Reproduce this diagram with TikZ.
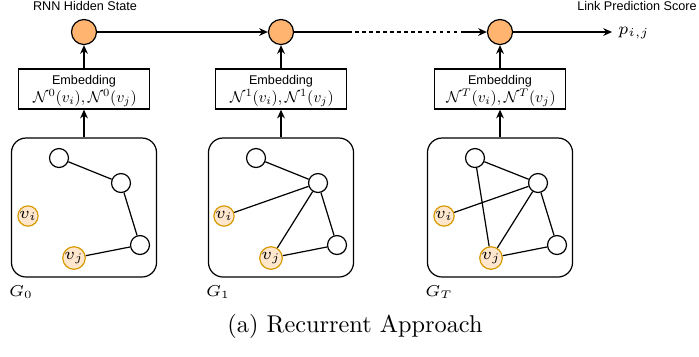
\documentclass[tikz,border=0pt]{standalone}
\usepackage{fix-cm}
\usepackage{graphicx}
\usepackage{fontspec}
\newfontfamily\helv{Liberation Sans}
\usetikzlibrary{arrows.meta}
\definecolor{hidfill}{HTML}{FFB570}
\definecolor{vfill}{HTML}{FFE6CC}
\definecolor{vdraw}{HTML}{D79B00}
\newcommand{\nbpair}[1]{\scalebox{0.65}{$\mathcal{N}^{#1}(v_i),\mathcal{N}^{#1}(v_j)$}}
\begin{document}
\begin{tikzpicture}[x=0.4115pt,y=-0.4115pt,
  hidden/.style={circle,draw,fill=hidfill,minimum size=10.3pt,inner sep=0pt,line width=0.5pt},
  embbox/.style={draw,minimum width=53.9pt,minimum height=16.5pt,inner sep=0pt,line width=0.5pt},
  graphbox/.style={draw,rounded corners=6pt,minimum width=59.7pt,minimum height=57.2pt,inner sep=0pt,line width=0.5pt},
  gnode/.style={circle,draw,minimum size=7.8pt,inner sep=0pt,line width=0.5pt,font=\fontsize{6.8}{8}\selectfont},
  tnode/.style={gnode,fill=vfill,draw=vdraw},
  flow/.style={-{Stealth[length=3.6pt,width=3.2pt]},line width=0.5pt},
  edge/.style={line width=0.5pt},
  lbl/.style={inner sep=0pt,font=\helv\fontsize{5.2}{6}\selectfont},
  mlbl/.style={inner sep=0pt},
  glbl/.style={inner sep=0pt,font=\fontsize{6.5}{7.5}\selectfont}]
\useasboundingbox (0,0) rectangle (699,356);

% top labels
\node[lbl] (rnnlbl) at (85,6) {RNN Hidden State};
\node[lbl] (linklbl) at (637,6) {Link Prediction Score};

% hidden states
\node[hidden] (h0) at (84,32) {};
\node[hidden] (h1) at (281,32) {};
\node[hidden] (h2) at (500,32) {};
\coordinate (d1) at (348,32);
\coordinate (d2) at (463,32);
\coordinate (pend) at (612,32);
\node[inner sep=0pt,font=\fontsize{7}{8}\selectfont] (p) at (634,33) {$p_{i,j}$};

% embedding boxes
\node[embbox] (e0) at (84,89) {};
\node[embbox] (e1) at (281,89) {};
\node[embbox] (e2) at (500,89) {};
\node[lbl] (e0a) at (84,81) {Embedding};
\node[lbl] (e1a) at (281,81) {Embedding};
\node[lbl] (e2a) at (500,81) {Embedding};
\node[mlbl] (e0b) at (85,98) {\nbpair{0}};
\node[mlbl] (e1b) at (282,98) {\nbpair{1}};
\node[mlbl] (e2b) at (501,98) {\nbpair{T}};

% graph snapshots
\node[graphbox] (g0) at (84,207.5) {};
\node[graphbox] (g1) at (281,207.5) {};
\node[graphbox] (g2) at (500,207.5) {};
\node[glbl] (g0l) at (21,292) {$G_0$};
\node[glbl] (g1l) at (218,292) {$G_1$};
\node[glbl] (g2l) at (439,292) {$G_T$};

% G_0
\node[gnode] (a1) at (59,158) {};
\node[gnode] (a2) at (121,183) {};
\node[gnode] (a3) at (140,245) {};
\node[tnode] (ai) at (28,216) {$v_i$};
\node[tnode] (aj) at (74,258) {$v_j$};
\draw[edge] (a1) -- (a2) (a2) -- (a3) (a3) -- (aj);

% G_1
\node[gnode] (b1) at (256,158) {};
\node[gnode] (b2) at (318,183) {};
\node[gnode] (b3) at (337,245) {};
\node[tnode] (bi) at (224,216) {$v_i$};
\node[tnode] (bj) at (271,258) {$v_j$};
\draw[edge] (b1) -- (b2) (b2) -- (bi) (b2) -- (bj) (b2) -- (b3) (b3) -- (bj);

% G_T
\node[gnode] (c1) at (475,158) {};
\node[gnode] (c2) at (538,183) {};
\node[gnode] (c3) at (557,245) {};
\node[tnode] (ci) at (444,216) {$v_i$};
\node[tnode] (cj) at (491,258) {$v_j$};
\draw[edge] (c1) -- (c2) (c1) -- (cj) (c2) -- (ci) (c2) -- (cj) (c2) -- (c3) (c3) -- (cj);

% recurrence
\draw[flow] (h0) -- (h1);
\draw[edge] (h1) -- (d1);
\draw[edge,dash pattern=on 1.5pt off 1.4pt] (d1) -- (d2);
\draw[flow] (d2) -- (h2);
\draw[flow] (h2) -- (pend);

% inputs
\foreach \g/\e/\h in {g0/e0/h0,g1/e1/h1,g2/e2/h2}{
  \draw[flow] (\g) -- (\e);
  \draw[flow] (\e) -- (\h);
}

% caption
\node[inner sep=0pt] (cap) at (355,326) {(a) Recurrent Approach};
\end{tikzpicture}
\end{document}
